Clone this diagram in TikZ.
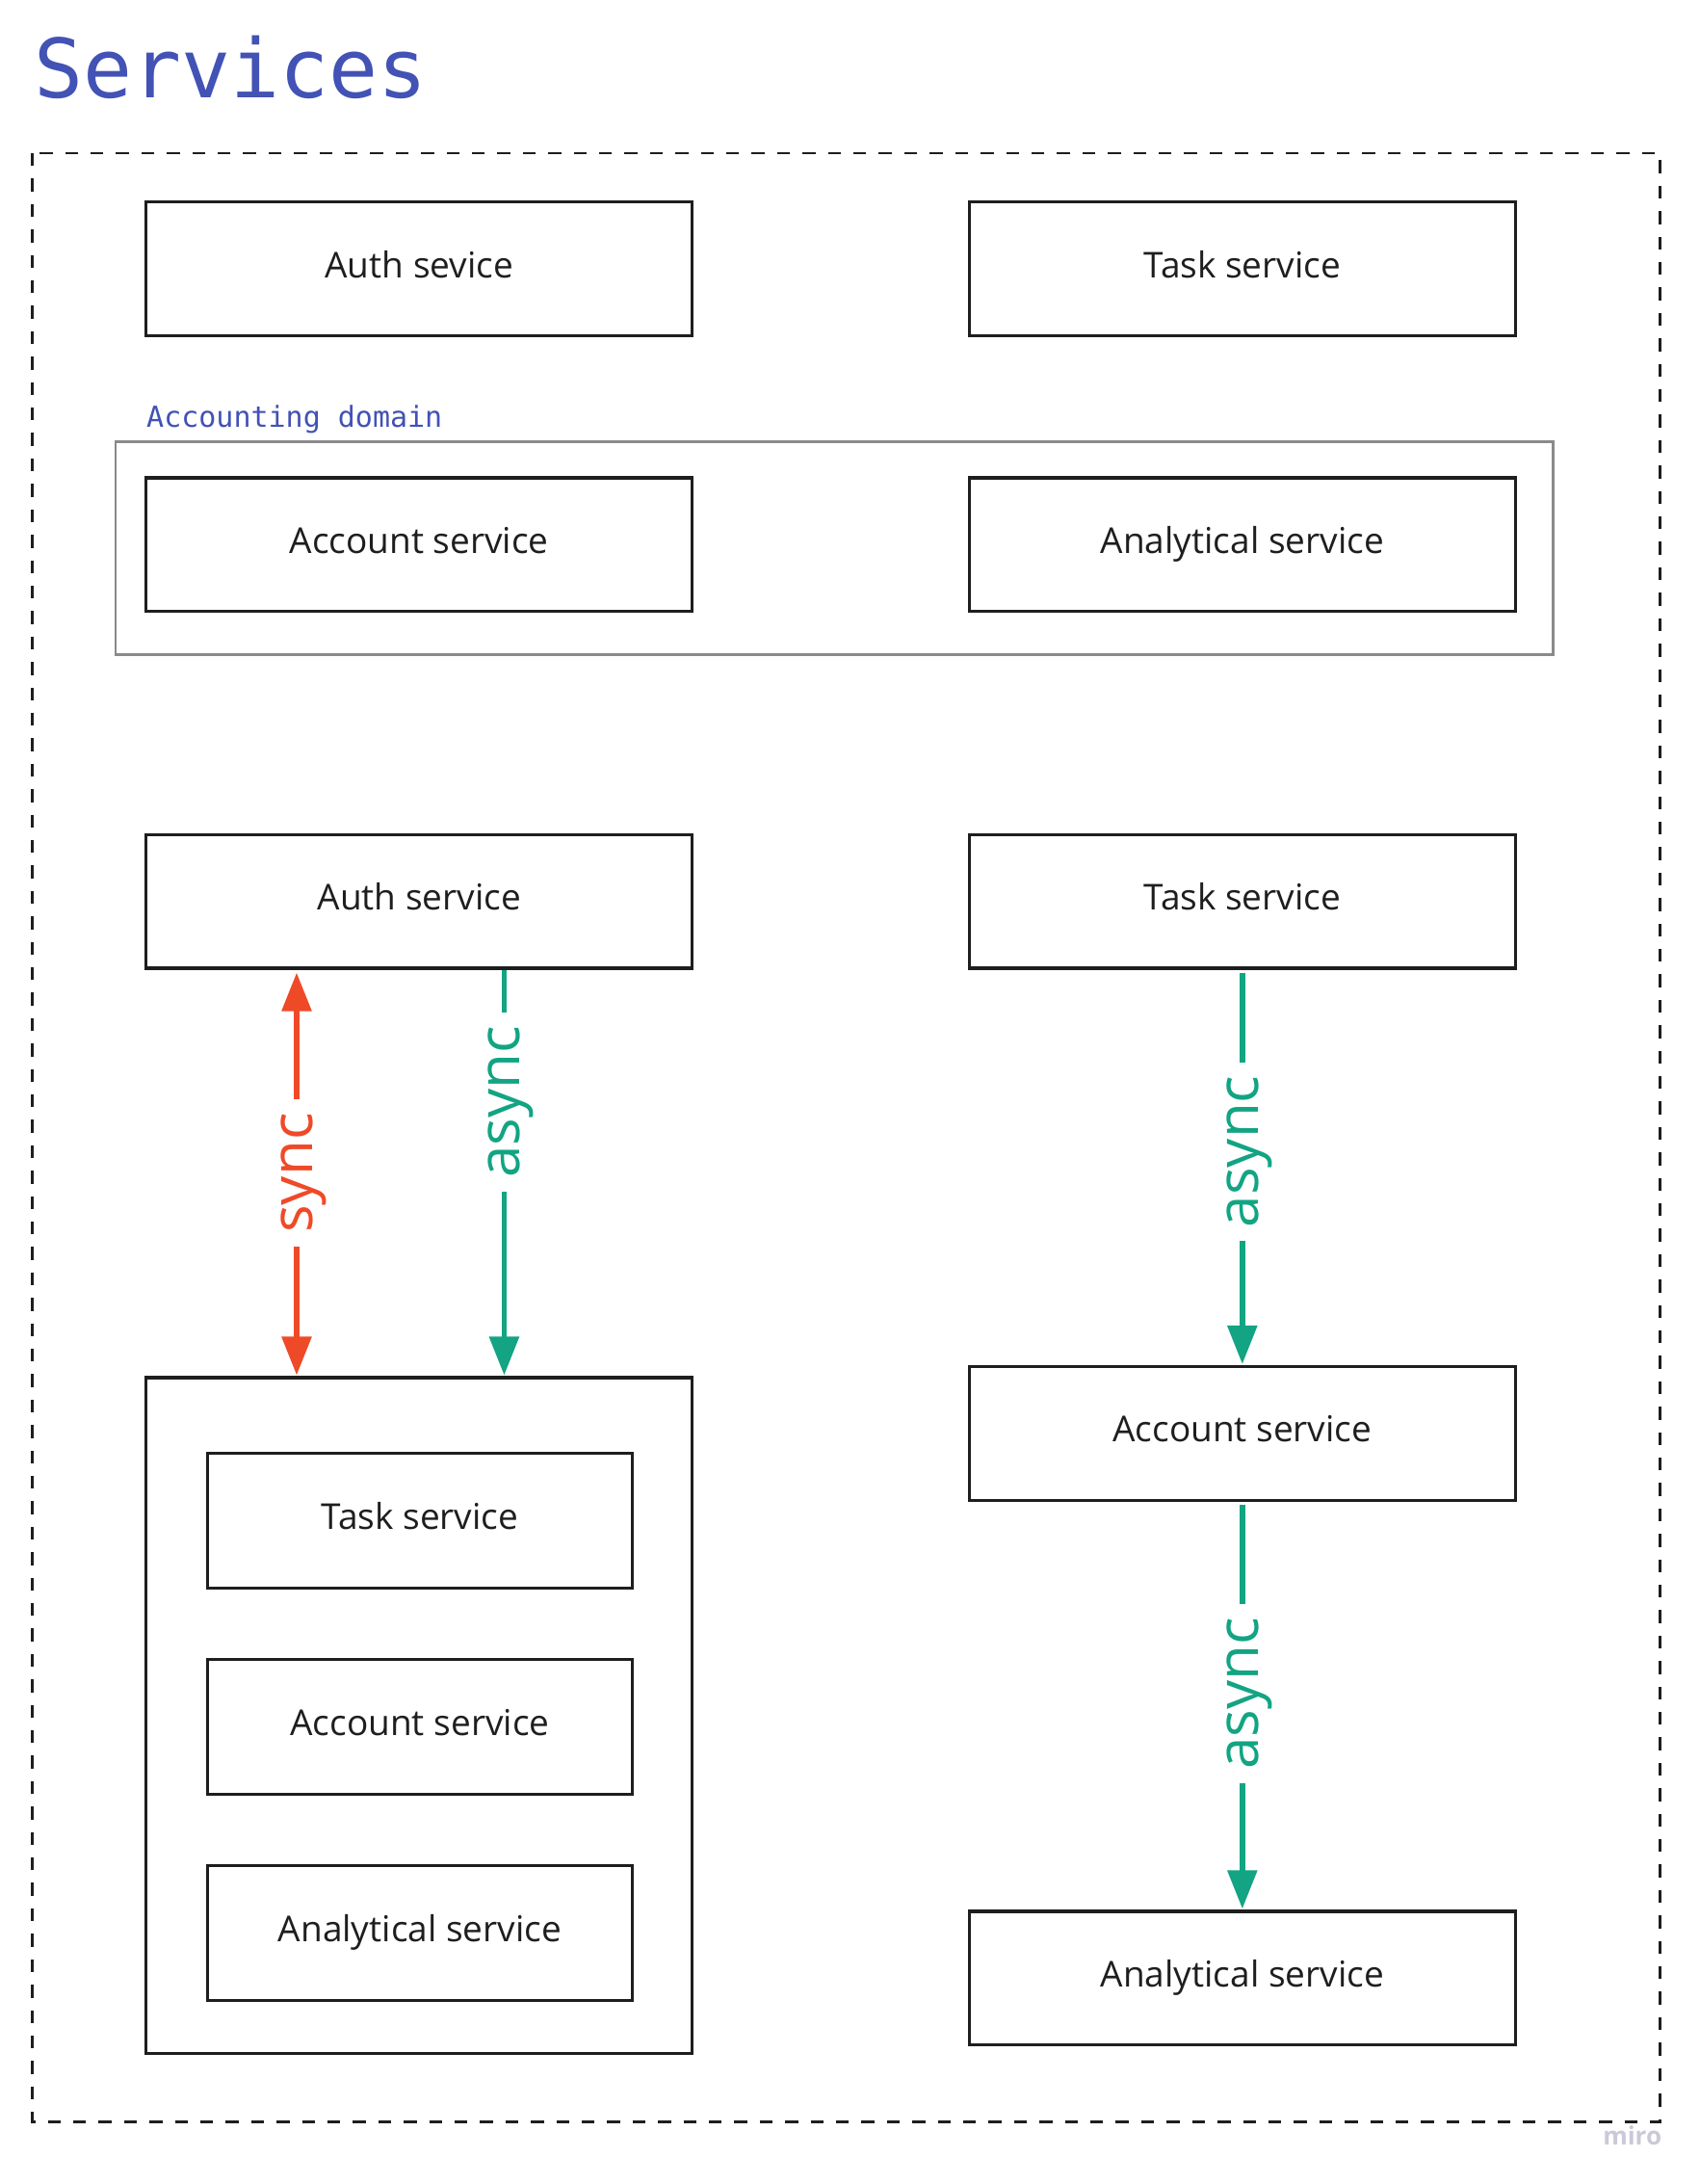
\documentclass[tikz,border=0pt]{standalone}
\usepackage{fontspec}
\setmainfont{Open Sans}
\newfontfamily\monofont{DejaVu Sans Mono}
\usetikzlibrary{arrows.meta,calc}
\definecolor{titleblue}{HTML}{4252B5}
\definecolor{syncred}{HTML}{EF4A28}
\definecolor{asyncgreen}{HTML}{12A483}
\definecolor{boxline}{HTML}{1E1E1E}
\definecolor{domgray}{HTML}{8A8A8A}
\definecolor{mirogray}{HTML}{CBC9D8}
\begin{document}
\begin{tikzpicture}[x=0.7229pt,y=-0.7229pt,
  svc/.style={draw=boxline,line width=1.6pt,inner sep=0pt,
    minimum width=283.4pt,minimum height=69.4pt,font=\fontsize{18.5}{22}\selectfont,text=boxline,
    text height=13.5pt,text depth=4.5pt},
  innersvc/.style={svc,minimum width=220.5pt,minimum height=70.1pt},
  grp/.style={draw=boxline,line width=1.6pt,inner sep=0pt},
  domainbox/.style={draw=domgray,line width=1.3pt,inner sep=0pt},
  lbl/.style={rotate=90,fill=white,inner xsep=7pt,inner ysep=0pt,text depth=0pt,font=\fontsize{30}{32}\selectfont},
  syncarrow/.style={draw=syncred,line width=2.9pt,{Triangle[width=15pt,length=20pt]}-{Triangle[width=15pt,length=20pt]}},
  asyncarrow/.style={draw=asyncgreen,line width=2.9pt,-{Triangle[width=15pt,length=20pt]}},
]
\useasboundingbox[fill=white] (0,0) rectangle (1220.1,1567.8);

% title
\node[anchor=base west,inner sep=0pt,text=titleblue,font=\monofont\fontsize{42.4}{44}\selectfont] (title) at (24,70) {Services};

% outer dashed frame
\draw[boxline,line width=1.4pt,dash pattern=on 6.7pt off 6.5pt] (23,110) rectangle (1192,1523);

% top row
\node[svc] (auth1) at (301,193) {Auth sevice};
\node[svc] (task1) at (892,193) {Task service};

% accounting domain
\node[domainbox,minimum width=746pt,minimum height=110.6pt] (dom) at (599,393.5) {};
\node[anchor=base west,inner sep=0pt,text=titleblue,font=\monofont\fontsize{15}{17}\selectfont] (domlbl) at (105,307) {Accounting domain};
\node[svc] (acc1) at (301,391) {Account service};
\node[svc] (ana1) at (892,391) {Analytical service};

% lower left
\node[svc] (auth2) at (301,647) {Auth service};
\node[grp,minimum width=283.4pt,minimum height=350.6pt] (mono) at (301,1231.5) {};
\node[innersvc] (task3) at (301.5,1091.5) {Task service};
\node[innersvc] (acc3) at (301.5,1239.5) {Account service};
\node[innersvc] (ana3) at (301.5,1387.5) {Analytical service};

\coordinate (sx) at (213,0);
\coordinate (ax) at (362,0);
\draw[syncarrow,shorten <=1.5pt,shorten >=0.5pt] (auth2.south -| sx) -- (mono.north -| sx)
  node[pos=0.5,lbl,text=syncred] (synclbl) {sync};
\draw[asyncarrow,shorten >=0.5pt] (auth2.south -| ax) -- (mono.north -| ax)
  node[pos=0.325,lbl,text=asyncgreen] (asynclbl1) {async};

% lower right
\node[svc] (task2) at (892,647) {Task service};
\node[svc] (acc2) at (892,1029) {Account service};
\node[svc] (ana2) at (892,1420) {Analytical service};

\draw[asyncarrow,shorten <=1.5pt,shorten >=0.5pt] (task2.south) -- (acc2.north)
  node[pos=0.46,lbl,text=asyncgreen] (asynclbl2) {async};
\draw[asyncarrow,shorten <=1.5pt,shorten >=0.5pt] (acc2.south) -- (ana2.north)
  node[pos=0.47,lbl,text=asyncgreen] (asynclbl3) {async};

% watermark
\node[inner sep=0pt,text=mirogray,font=\fontsize{13}{15}\selectfont\bfseries] (miro) at (1172,1533) {miro};
\end{tikzpicture}
\end{document}
